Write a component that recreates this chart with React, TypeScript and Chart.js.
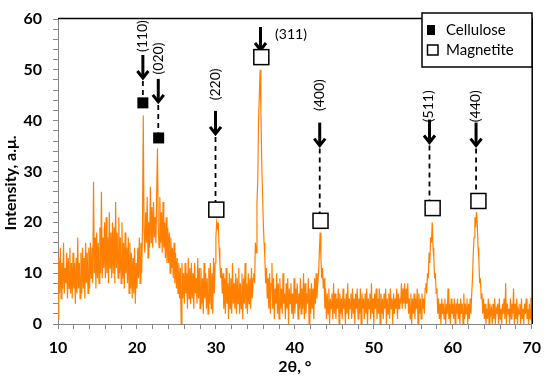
import React, { useEffect, useRef } from 'react';
import { Chart, registerables } from 'chart.js';

Chart.register(...registerables);

// 2θ grid of the measured pattern (degrees)
const TWO_THETA_START = 10;
const TWO_THETA_STEP = 0.1;

// Intensity (a.u.), one value per 0.1° from 10° to 70°
const intensity: number[] = [
  1, 13, 6, 15, 5, 12, 7, 16, 6, 11, // 10
  8, 14, 5, 13, 7, 15, 6, 12, 5, 14, // 11
  7, 12, 4, 13, 6, 17, 7, 12, 5, 14, // 12
  6, 15, 7, 13, 5, 16, 8, 14, 6, 15, // 13
  7, 16, 9, 15, 8, 28, 10, 17, 7, 18, // 14
  9, 16, 8, 19, 10, 26, 9, 17, 11, 20, // 15
  9, 21, 10, 17, 8, 22, 11, 18, 9, 20, // 16
  10, 19, 8, 24, 11, 18, 9, 21, 10, 17, // 17
  8, 20, 9, 16, 7, 18, 10, 15, 8, 17, // 18
  6, 16, 7, 14, 5, 13, 6, 15, 4, 12, // 19
  7, 15, 9, 17, 8, 16, 10, 19, 41, 18, // 20
  14, 22, 16, 25, 13, 20, 15, 27, 16, 23, // 21
  15, 24, 17, 21, 16, 26, 34.5, 19, 15, 25, // 22
  16, 22, 14, 24, 15, 20, 13, 21, 12, 19, // 23
  12, 18, 10, 17, 11, 15, 9, 16, 8, 14, // 24
  7, 13, 6, 12, 5, 11, 0, 12, 5, 10, // 25
  4, 12, 6, 10, 3, 13, 5, 11, 4, 12, // 26
  5, 10, 3, 12, 6, 9, 4, 13, 5, 11, // 27
  3, 11, 4, 9, 2, 12, 5, 10, 3, 9, // 28
  2, 11, 4, 12, 3, 10, 2, 13, 6, 12, // 29
  17, 20, 19, 20, 15, 12, 9, 11, 6, 10, // 30
  3, 9, 2, 11, 4, 8, 1, 10, 3, 9, // 31
  2, 12, 4, 8, 3, 10, 2, 9, 4, 11, // 32
  2, 8, 3, 10, 1, 9, 4, 12, 3, 8, // 33
  2, 10, 4, 9, 3, 11, 5, 9, 10, 8, // 34
  16, 14, 24, 28, 40, 45, 50, 42, 32, 26, // 35
  20, 16, 13, 8, 11, 5, 9, 3, 10, 2, // 36
  8, 12, 3, 9, 1, 7, 4, 10, 2, 8, // 37
  1, 9, 3, 7, 2, 10, 4, 6, 1, 8, // 38
  3, 9, 0, 7, 4, 8, 2, 6, 1, 9, // 39
  2, 7, 4, 8, 1, 6, 3, 9, 2, 7, // 40
  3, 10, 1, 8, 2, 6, 4, 9, 0, 7, // 41
  2, 8, 3, 7, 1, 9, 4, 10, 5, 8, // 42
  10, 14, 18, 13, 9, 11, 7, 9, 3, 7, // 43
  1, 6, 2, 7, 0, 5, 3, 6, 1, 8, // 44
  2, 6, 1, 5, 3, 7, 0, 6, 2, 5, // 45
  1, 7, 3, 5, 0, 6, 2, 8, 1, 5, // 46
  3, 6, 1, 7, 2, 5, 0, 6, 3, 7, // 47
  1, 5, 2, 7, 0, 6, 3, 5, 1, 6, // 48
  2, 7, 0, 5, 3, 6, 1, 8, 2, 5, // 49
  0, 6, 3, 7, 1, 5, 2, 7, 0, 6, // 50
  2, 5, 1, 6, 3, 7, 0, 5, 2, 6, // 51
  1, 7, 3, 5, 0, 6, 2, 5, 3, 7, // 52
  1, 6, 3, 5, 4, 8, 3, 7, 4, 8, // 53
  3, 7, 4, 8, 2, 5, 1, 6, 0, 5, // 54
  2, 6, 1, 5, 3, 7, 0, 6, 2, 5, // 55
  1, 6, 3, 5, 2, 7, 8, 6, 10, 9, // 56
  14, 12, 17, 16, 20, 15, 13, 9, 10, 6, // 57
  7, 2, 5, 1, 4, 0, 5, 2, 4, 1, // 58
  5, 0, 4, 2, 7, 1, 4, 0, 5, 2, // 59
  4, 1, 5, 0, 4, 2, 5, 1, 4, 0, // 60
  5, 2, 4, 0, 6, 1, 4, 2, 5, 0, // 61
  4, 1, 5, 2, 6, 9, 14, 17, 21, 19, // 62
  22, 20, 15, 13, 8, 9, 5, 6, 2, 5, // 63
  1, 4, 0, 3, 1, 5, 0, 4, 2, 3, // 64
  0, 4, 1, 5, 0, 3, 2, 4, 0, 5, // 65
  1, 3, 0, 4, 2, 5, 1, 8, 0, 4, // 66
  2, 3, 0, 5, 1, 4, 2, 7, 0, 4, // 67
  1, 5, 0, 3, 2, 4, 0, 5, 1, 3, // 68
  0, 4, 2, 5, 1, 3, 0, 4, 1, 5, // 69
  5, // 70
];

// Peak annotations
const peakLabels = ['(110)', '(020)', '(220)', '(311)', '(400)', '(511)', '(440)'];
const peakPhase = ['Cellulose', 'Cellulose', 'Magnetite', 'Magnetite', 'Magnetite', 'Magnetite', 'Magnetite'];
const markerX = [20.75, 22.75, 30.05, 35.75, 43.25, 57.45, 63.25];
const markerY = [43.5, 36.6, 22.5, 52.5, 20.3, 22.8, 24.2];
const arrowX = [20.75, 22.7, 29.95, 35.65, 43.15, 57.05, 62.95];
const arrowTipY = [48.2, 43.5, 37.2, 53.7, 34.9, 35.5, 34.9];
const labelX = [20.75, 22.7, 29.95, 37.5, 43.15, 56.95, 62.85];
const labelY = [53.5, 49.1, 44.0, 56.9, 41.9, 39.7, 39.7];
const labelVertical = [true, true, true, false, true, true, true];

const legendItems = ['Cellulose', 'Magnetite'];

const FONT = 'Lato, "Open Sans", "DejaVu Sans", sans-serif';

const annotationPlugin = {
  id: 'xrdAnnotations',
  afterDatasetsDraw(chart: any) {
    const { ctx, chartArea, scales } = chart;
    const xs = scales.x;
    const ys = scales.y;
    ctx.save();

    // plot frame (top and right)
    ctx.strokeStyle = '#000';
    ctx.lineWidth = 1.5;
    ctx.beginPath();
    ctx.moveTo(chartArea.left, chartArea.top - 0.5);
    ctx.lineTo(chartArea.right + 0.5, chartArea.top - 0.5);
    ctx.lineTo(chartArea.right + 0.5, chartArea.bottom);
    ctx.stroke();

    const ARROW_LEN = 24;
    peakLabels.forEach((label, i) => {
      const ax = xs.getPixelForValue(arrowX[i]);
      const tipY = ys.getPixelForValue(arrowTipY[i]);
      const mx = xs.getPixelForValue(markerX[i]);
      const my = ys.getPixelForValue(markerY[i]);
      const filled = peakPhase[i] === 'Cellulose';
      const half = filled ? 5.5 : 7.5;

      // dashed drop line
      const dashEnd = my - half;
      if (dashEnd - tipY > 3) {
        ctx.setLineDash([5, 4]);
        ctx.lineWidth = 1.8;
        ctx.strokeStyle = '#000';
        ctx.beginPath();
        ctx.moveTo(ax, tipY + 2);
        ctx.lineTo(ax, dashEnd);
        ctx.stroke();
        ctx.setLineDash([]);
      }

      // arrow
      ctx.strokeStyle = '#000';
      ctx.lineWidth = 3;
      ctx.lineCap = 'butt';
      ctx.beginPath();
      ctx.moveTo(ax, tipY - ARROW_LEN);
      ctx.lineTo(ax, tipY - 2);
      ctx.stroke();
      ctx.lineJoin = 'miter';
      ctx.beginPath();
      ctx.moveTo(ax - 5.5, tipY - 8);
      ctx.lineTo(ax, tipY - 1);
      ctx.lineTo(ax + 5.5, tipY - 8);
      ctx.stroke();

      // label
      ctx.fillStyle = '#000';
      ctx.font = `14px ${FONT}`;
      const lx = xs.getPixelForValue(labelX[i]);
      const ly = ys.getPixelForValue(labelY[i]);
      if (labelVertical[i]) {
        ctx.save();
        ctx.translate(lx, ly);
        ctx.rotate(-Math.PI / 2);
        ctx.textAlign = 'left';
        ctx.textBaseline = 'middle';
        ctx.fillText(label, 0, 0);
        ctx.restore();
      } else {
        ctx.textAlign = 'left';
        ctx.textBaseline = 'middle';
        ctx.fillText(label, lx, ly);
      }

      // phase marker
      if (filled) {
        ctx.fillStyle = '#000';
        ctx.fillRect(mx - half, my - half, half * 2, half * 2);
      } else {
        ctx.fillStyle = '#fff';
        ctx.fillRect(mx - half, my - half, half * 2, half * 2);
        ctx.strokeStyle = '#000';
        ctx.lineWidth = 1.5;
        ctx.strokeRect(mx - half, my - half, half * 2, half * 2);
      }
    });

    // legend box
    ctx.strokeStyle = '#000';
    ctx.lineWidth = 1.5;
    ctx.fillStyle = '#fff';
    ctx.fillRect(422, 13, 110, 54);
    ctx.strokeRect(422, 13, 110, 54);
    ctx.fillStyle = '#000';
    ctx.fillRect(427, 25, 8, 10);
    ctx.strokeRect(427.5, 45, 10.5, 10);
    ctx.font = `15px ${FONT}`;
    ctx.textAlign = 'left';
    ctx.textBaseline = 'middle';
    ctx.fillText(legendItems[0], 446, 30);
    ctx.fillText(legendItems[1], 446, 50);

    // y-axis title
    ctx.save();
    ctx.translate(11, 183);
    ctx.rotate(-Math.PI / 2);
    ctx.textAlign = 'center';
    ctx.textBaseline = 'middle';
    ctx.font = `bold 16px ${FONT}`;
    ctx.fillText('Intensity, a.μ.', 0, 0);
    ctx.restore();

    ctx.restore();
  },
};

export default function App() {
  const ref = useRef<HTMLCanvasElement>(null);

  useEffect(() => {
    if (!ref.current) return;
    const points = intensity.map((v, i) => ({
      x: Math.round((TWO_THETA_START + i * TWO_THETA_STEP) * 100) / 100,
      y: v,
    }));
    const chart = new Chart(ref.current, {
      type: 'line',
      data: {
        datasets: [
          {
            label: 'XRD',
            data: points,
            borderColor: '#ff8000',
            borderWidth: 1.2,
            pointRadius: 0,
            tension: 0,
            fill: false,
          },
        ],
      },
      options: {
        responsive: false,
        animation: false,
        devicePixelRatio: 1,
        layout: { padding: { left: 0, right: 11, top: 8, bottom: 0 } },
        plugins: {
          legend: { display: false },
          tooltip: { enabled: false },
        },
        scales: {
          x: {
            type: 'linear',
            min: 10,
            max: 70,
            afterFit: (scale: any) => {
              scale.height = 54;
            },
            ticks: {
              stepSize: 2,
              autoSkip: false,
              maxRotation: 0,
              padding: 9,
              color: '#000',
              font: { family: FONT, size: 16, weight: 'bold' },
              callback: (v: any) => (Math.abs(Number(v) % 10) < 1e-6 ? String(v) : ''),
            },
            grid: { display: true, drawOnChartArea: false, drawTicks: true, tickLength: 5, color: '#888' },
            border: { display: true, color: '#888', width: 1 },
            title: {
              display: true,
              text: '2θ, °',
              color: '#000',
              font: { family: FONT, size: 16, weight: 'bold' },
              padding: { top: 0, bottom: 2 },
            },
          },
          y: {
            type: 'linear',
            min: 0,
            max: 60,
            afterFit: (scale: any) => {
              scale.width = 58;
            },
            ticks: {
              stepSize: 2,
              autoSkip: false,
              padding: 11,
              color: '#000',
              font: { family: FONT, size: 16, weight: 'bold', lineHeight: 1 },
              callback: (v: any) => (Math.abs(Number(v) % 10) < 1e-6 ? String(v) : ''),
            },
            grid: { display: true, drawOnChartArea: false, drawTicks: true, tickLength: 5, color: '#888' },
            border: { display: true, color: '#888', width: 1 },
            title: { display: false },
          },
        },
      },
      plugins: [annotationPlugin],
    });
    return () => chart.destroy();
  }, []);

  return (
    <div style={{ position: 'absolute', left: 0, top: 0, width: 550, height: 378, background: '#fff' }}>
      <canvas ref={ref} width={550} height={378} style={{ display: 'block', width: 550, height: 378 }} />
    </div>
  );
}
